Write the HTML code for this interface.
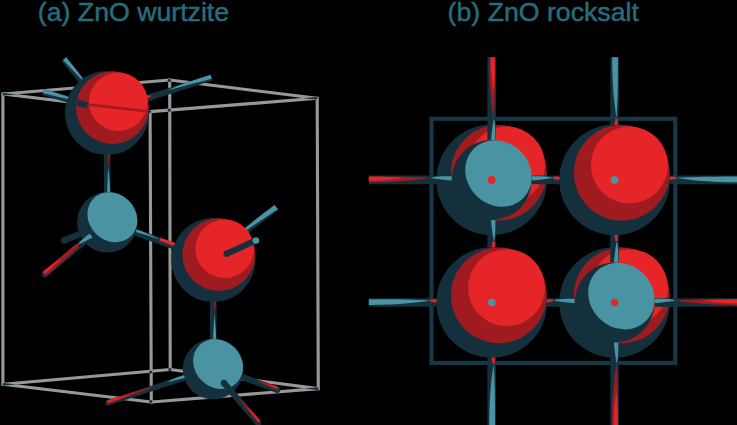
<!DOCTYPE html>
<html><head><meta charset="utf-8"><style>
html,body{margin:0;padding:0;background:#000;}
body{width:737px;height:425px;overflow:hidden;position:relative;}
svg{position:absolute;left:0;top:0;}
</style></head><body>
<svg width="737" height="425" viewBox="0 0 737 425">
<line x1="2.90" y1="94.00" x2="169.70" y2="80.00" stroke="#989898" stroke-width="3.1" stroke-linecap="round"/>
<line x1="169.70" y1="80.00" x2="317.20" y2="98.30" stroke="#989898" stroke-width="3.1" stroke-linecap="round"/>
<line x1="2.90" y1="94.00" x2="150.10" y2="111.60" stroke="#989898" stroke-width="3.1" stroke-linecap="round"/>
<line x1="150.10" y1="111.60" x2="317.20" y2="98.30" stroke="#989898" stroke-width="3.1" stroke-linecap="round"/>
<line x1="2.90" y1="384.20" x2="170.20" y2="369.50" stroke="#989898" stroke-width="3.1" stroke-linecap="round"/>
<line x1="170.20" y1="369.50" x2="318.30" y2="388.60" stroke="#989898" stroke-width="3.1" stroke-linecap="round"/>
<line x1="2.90" y1="384.20" x2="151.30" y2="402.00" stroke="#989898" stroke-width="3.1" stroke-linecap="round"/>
<line x1="151.30" y1="402.00" x2="318.30" y2="388.60" stroke="#989898" stroke-width="3.1" stroke-linecap="round"/>
<line x1="2.90" y1="94.00" x2="2.90" y2="384.20" stroke="#989898" stroke-width="3.1" stroke-linecap="round"/>
<line x1="150.10" y1="111.60" x2="151.30" y2="402.00" stroke="#989898" stroke-width="3.1" stroke-linecap="round"/>
<line x1="169.70" y1="80.00" x2="170.20" y2="369.50" stroke="#989898" stroke-width="3.1" stroke-linecap="round"/>
<line x1="317.20" y1="98.30" x2="318.30" y2="388.60" stroke="#989898" stroke-width="3.1" stroke-linecap="round"/>
<polygon points="110.30,112.99 110.65,222.24 104.05,222.26 103.70,113.01" fill="#15303d"/>
<polygon points="110.15,112.99 110.16,116.40 110.17,119.82 110.18,123.23 110.19,126.65 110.19,130.06 110.18,133.47 110.15,136.89 110.11,140.30 110.05,143.72 109.95,147.13 109.82,150.55 109.65,153.96 109.42,157.38 109.13,160.79 108.77,164.21 108.33,167.62 108.33,167.62 108.25,164.21 108.18,160.79 108.10,157.38 108.02,153.97 107.94,150.55 107.87,147.14 107.79,143.72 107.71,140.31 107.63,136.90 107.54,133.48 107.46,130.07 107.38,126.66 107.29,123.24 107.20,119.83 107.11,116.41 107.00,113.00" fill="#a01b20"/>
<polygon points="110.50,222.24 110.49,218.83 110.48,215.41 110.46,212.00 110.45,208.58 110.42,205.17 110.39,201.76 110.34,198.34 110.28,194.93 110.19,191.51 110.06,188.10 109.90,184.69 109.69,181.27 109.42,177.86 109.08,174.45 108.67,171.03 108.16,167.62 108.16,167.62 108.00,171.04 107.84,174.45 107.69,177.87 107.53,181.28 107.38,184.69 107.23,188.11 107.09,191.52 106.95,194.94 106.81,198.35 106.68,201.77 106.55,205.18 106.42,208.60 106.31,212.01 106.20,215.43 106.10,218.84 106.03,222.25" fill="#4a93a3"/>
<polygon points="108.49,219.05 214.54,256.80 212.26,263.20 106.21,225.45" fill="#15303d"/>
<polygon points="108.44,219.19 111.69,220.34 114.94,221.50 118.18,222.66 121.43,223.82 124.67,224.99 127.91,226.16 131.15,227.35 134.38,228.55 137.61,229.77 140.82,231.02 144.02,232.30 147.21,233.62 150.38,234.99 153.54,236.42 156.67,237.91 159.77,239.47 159.77,239.47 156.48,238.42 153.19,237.38 149.91,236.34 146.62,235.30 143.32,234.27 140.03,233.23 136.74,232.20 133.45,231.17 130.15,230.15 126.86,229.12 123.56,228.11 120.26,227.10 116.96,226.09 113.65,225.10 110.34,224.12 107.01,223.21" fill="#4a93a3"/>
<polygon points="214.49,256.94 211.11,255.73 207.73,254.53 204.35,253.33 200.97,252.13 197.59,250.92 194.21,249.72 190.83,248.52 187.45,247.31 184.07,246.11 180.69,244.91 177.31,243.70 173.93,242.50 170.55,241.30 167.17,240.09 163.78,238.89 160.40,237.69 159.31,240.75 162.68,241.99 166.05,243.23 169.41,244.48 172.78,245.72 176.14,246.96 179.51,248.21 182.88,249.45 186.24,250.69 189.61,251.94 192.98,253.18 196.34,254.42 199.71,255.67 203.07,256.91 206.44,258.15 209.81,259.40 213.17,260.64" fill="#e52528"/>
<polygon points="216.70,260.01 216.40,369.11 209.80,369.09 210.10,259.99" fill="#15303d"/>
<polygon points="216.55,260.01 216.54,263.42 216.53,266.83 216.52,270.24 216.50,273.65 216.48,277.06 216.45,280.46 216.41,283.87 216.35,287.28 216.27,290.69 216.15,294.10 216.00,297.51 215.81,300.92 215.56,304.33 215.25,307.74 214.87,311.15 214.40,314.55 214.40,314.55 214.35,311.14 214.29,307.73 214.24,304.32 214.18,300.91 214.12,297.51 214.06,294.10 214.00,290.69 213.94,287.28 213.88,283.87 213.82,280.46 213.76,277.05 213.69,273.64 213.63,270.23 213.56,266.82 213.49,263.41 213.40,260.00" fill="#a01b20"/>
<polygon points="216.25,369.11 216.26,365.70 216.27,362.29 216.28,358.88 216.28,355.47 216.28,352.06 216.26,348.65 216.24,345.24 216.19,341.83 216.12,338.42 216.01,335.01 215.87,331.60 215.68,328.19 215.43,324.78 215.12,321.37 214.72,317.96 214.24,314.55 214.24,314.55 214.06,317.96 213.88,321.37 213.70,324.78 213.53,328.19 213.36,331.60 213.19,335.01 213.02,338.42 212.86,341.82 212.70,345.23 212.55,348.64 212.40,352.05 212.26,355.46 212.12,358.87 211.99,362.28 211.87,365.69 211.78,369.10" fill="#4a93a3"/>
<polygon points="66.31,57.15 88.41,84.55 83.59,88.45 61.49,61.05" fill="#15303d"/>
<polygon points="66.20,57.25 67.58,58.96 68.96,60.67 70.34,62.39 71.72,64.10 73.09,65.82 74.46,67.54 75.83,69.27 77.18,71.00 78.52,72.75 79.84,74.51 81.15,76.28 82.43,78.08 83.68,79.89 84.89,81.74 86.07,83.61 87.21,85.53 87.21,85.53 85.69,83.92 84.17,82.32 82.66,80.72 81.14,79.11 79.62,77.51 78.10,75.91 76.59,74.31 75.07,72.70 73.55,71.10 72.04,69.50 70.52,67.89 69.00,66.29 67.49,64.69 65.97,63.08 64.45,61.48 62.93,59.88" fill="#4a93a3"/>
<polygon points="44.10,89.03 87.40,102.23 85.60,108.17 42.30,94.97" fill="#15303d"/>
<polygon points="44.06,89.18 46.77,90.00 49.47,90.83 52.18,91.65 54.88,92.48 57.59,93.32 60.29,94.15 62.99,95.00 65.68,95.86 68.38,96.74 71.06,97.63 73.74,98.55 76.41,99.50 79.06,100.49 81.71,101.51 84.34,102.59 86.95,103.72 86.95,103.72 84.19,103.06 81.44,102.40 78.68,101.74 75.92,101.08 73.17,100.43 70.41,99.77 67.65,99.11 64.90,98.45 62.14,97.79 59.38,97.14 56.62,96.48 53.87,95.82 51.11,95.16 48.35,94.50 45.60,93.84 42.84,93.19" fill="#4a93a3"/>
<polygon points="210.46,74.65 145.06,95.55 146.94,101.45 212.34,80.55" fill="#15303d"/>
<polygon points="210.50,74.79 207.79,75.66 205.08,76.53 202.36,77.40 199.65,78.27 196.94,79.15 194.24,80.04 191.53,80.93 188.83,81.84 186.14,82.77 183.45,83.73 180.78,84.71 178.12,85.73 175.47,86.79 172.83,87.91 170.22,89.08 167.62,90.32 167.62,90.32 170.38,89.60 173.14,88.88 175.90,88.16 178.66,87.43 181.42,86.71 184.18,85.99 186.94,85.27 189.70,84.55 192.46,83.83 195.22,83.11 197.98,82.39 200.74,81.67 203.50,80.94 206.26,80.22 209.02,79.50 211.78,78.78" fill="#4a93a3"/>
<polygon points="139.25,96.99 151.25,93.99 152.75,100.01 140.75,103.01" fill="#15303d"/>
<polygon points="139.28,97.14 140.03,96.95 140.78,96.76 141.54,96.58 142.29,96.40 143.04,96.22 143.79,96.05 144.55,95.90 145.32,95.76 146.08,95.65 146.86,95.56 147.64,95.51 148.44,95.51 149.25,95.55 150.07,95.66 150.91,95.84 151.77,96.10 151.77,96.10 151.07,96.47 150.37,96.85 149.67,97.22 148.96,97.60 148.26,97.98 147.56,98.35 146.85,98.73 146.15,99.10 145.45,99.48 144.74,99.85 144.04,100.23 143.34,100.60 142.64,100.98 141.93,101.35 141.23,101.73 140.53,102.11" fill="#e52528"/>
<polygon points="62.79,237.38 83.79,228.98 86.21,235.02 65.21,243.42" fill="#15303d"/>
<circle cx="64.00" cy="240.40" r="3.25" fill="#15303d"/>
<polygon points="274.53,204.81 233.03,236.41 236.97,241.59 278.47,209.99" fill="#15303d"/>
<polygon points="274.62,204.93 272.03,206.91 269.43,208.88 266.84,210.86 264.25,212.84 261.67,214.82 259.08,216.82 256.51,218.82 253.95,220.84 251.41,222.88 248.88,224.94 246.38,227.04 243.90,229.17 241.46,231.35 239.06,233.57 236.71,235.86 234.41,238.22 234.41,238.22 237.13,236.41 239.84,234.60 242.56,232.78 245.28,230.97 247.99,229.16 250.71,227.34 253.43,225.53 256.14,223.72 258.86,221.90 261.58,220.09 264.29,218.28 267.01,216.46 269.73,214.65 272.44,212.84 275.16,211.02 277.88,209.21" fill="#4a93a3"/>
<circle cx="107.00" cy="113.00" r="42.10" fill="#15303d"/>
<circle cx="112.43" cy="107.57" r="36.37" fill="#a01b20"/>
<circle cx="118.29" cy="101.71" r="29.26" fill="#e52528"/>
<clipPath id="c1"><circle cx="107.00" cy="113.00" r="41.80"/></clipPath>
<line x1="80" y1="103.6" x2="149.5" y2="111.6" stroke="#a01b20" stroke-width="2.6" clip-path="url(#c1)"/>
<polygon points="77.85,99.42 88.35,102.42 86.65,108.38 76.15,105.38" fill="#15303d"/>
<circle cx="107.35" cy="222.25" r="30.30" fill="#15303d"/>
<ellipse cx="112.36" cy="217.24" rx="26.49" ry="23.37" transform="rotate(45 112.36 217.24)" fill="#4a93a3"/>
<circle cx="213.40" cy="260.00" r="42.10" fill="#15303d"/>
<circle cx="218.83" cy="254.57" r="36.37" fill="#a01b20"/>
<circle cx="224.69" cy="248.71" r="29.26" fill="#e52528"/>
<circle cx="213.10" cy="369.10" r="30.30" fill="#15303d"/>
<ellipse cx="218.11" cy="364.09" rx="26.49" ry="23.37" transform="rotate(45 218.11 364.09)" fill="#4a93a3"/>
<polygon points="42.75,271.74 76.75,243.44 80.85,248.36 46.85,276.66" fill="#15303d"/>
<circle cx="44.80" cy="274.20" r="3.20" fill="#15303d"/>
<polygon points="42.85,271.86 44.97,270.09 47.10,268.32 49.22,266.55 51.35,264.78 53.47,263.01 55.60,261.24 57.72,259.47 59.85,257.71 61.97,255.94 64.10,254.17 66.22,252.40 68.35,250.63 70.47,248.86 72.60,247.09 74.72,245.32 76.85,243.56 79.21,246.39 77.16,248.25 75.10,250.10 73.05,251.96 71.00,253.81 68.94,255.67 66.89,257.52 64.84,259.38 62.78,261.23 60.73,263.09 58.68,264.94 56.62,266.80 54.57,268.65 52.52,270.50 50.46,272.36 48.41,274.21 46.36,276.07" fill="#a01b20"/>
<polygon points="42.94,271.97 44.01,271.09 45.07,270.20 46.13,269.32 47.20,268.44 48.27,267.56 49.34,266.69 50.43,265.84 51.52,264.99 52.63,264.16 53.76,263.35 54.91,262.58 56.09,261.83 57.30,261.12 58.55,260.46 59.84,259.86 61.19,259.31 61.19,259.31 60.16,260.24 59.14,261.17 58.11,262.10 57.09,263.03 56.07,263.96 55.04,264.90 54.02,265.83 52.99,266.76 51.97,267.69 50.94,268.62 49.92,269.55 48.90,270.48 47.87,271.41 46.85,272.34 45.82,273.27 44.80,274.20" fill="#e52528"/>
<polygon points="89.42,233.48 76.82,243.38 80.78,248.42 93.38,238.52" fill="#15303d"/>
<polygon points="89.52,233.60 88.73,234.22 87.94,234.84 87.15,235.46 86.37,236.08 85.59,236.71 84.81,237.34 84.04,237.98 83.28,238.64 82.54,239.31 81.81,240.00 81.10,240.72 80.41,241.47 79.75,242.25 79.13,243.08 78.55,243.96 78.01,244.89 78.01,244.89 78.92,244.43 79.83,243.97 80.74,243.51 81.65,243.05 82.56,242.59 83.48,242.12 84.39,241.66 85.30,241.20 86.21,240.74 87.12,240.28 88.03,239.82 88.94,239.36 89.85,238.89 90.76,238.43 91.68,237.97 92.59,237.51" fill="#4a93a3"/>
<polygon points="225.22,250.98 254.62,237.68 257.18,243.32 227.78,256.62" fill="#15303d"/>
<circle cx="226.50" cy="253.80" r="3.10" fill="#15303d"/>
<circle cx="255.90" cy="240.50" r="3.30" fill="#4a93a3"/>
<polygon points="260.55,420.67 226.15,380.87 221.45,384.93 255.85,424.73" fill="#15303d"/>
<circle cx="258.20" cy="422.70" r="3.10" fill="#15303d"/>
<circle cx="223.80" cy="382.90" r="3.10" fill="#15303d"/>
<polygon points="260.43,420.77 259.14,419.28 257.85,417.79 256.56,416.29 255.27,414.81 253.97,413.32 252.67,411.84 251.35,410.36 250.03,408.90 248.69,407.45 247.33,406.02 245.95,404.60 244.54,403.21 243.10,401.86 241.61,400.53 240.08,399.25 238.50,398.01 238.50,398.01 239.69,399.58 240.89,401.16 242.09,402.73 243.29,404.30 244.50,405.86 245.70,407.43 246.91,408.99 248.12,410.55 249.34,412.11 250.55,413.66 251.77,415.22 253.00,416.77 254.23,418.31 255.46,419.85 256.71,421.38 257.97,422.90" fill="#a01b20"/>
<polygon points="260.32,420.87 259.57,420.00 258.81,419.13 258.06,418.26 257.30,417.39 256.54,416.53 255.78,415.67 255.01,414.81 254.22,413.97 253.43,413.14 252.61,412.32 251.78,411.52 250.91,410.74 250.02,410.00 249.09,409.28 248.12,408.60 247.10,407.96 247.10,407.96 247.83,408.85 248.57,409.73 249.30,410.62 250.03,411.50 250.77,412.39 251.51,413.28 252.24,414.16 252.98,415.04 253.72,415.93 254.45,416.81 255.19,417.69 255.93,418.58 256.67,419.46 257.41,420.34 258.16,421.22 258.90,422.09" fill="#e52528"/>
<polygon points="278.37,386.89 243.17,373.89 241.03,379.71 276.23,392.71" fill="#15303d"/>
<circle cx="277.30" cy="389.80" r="3.10" fill="#15303d"/>
<polygon points="278.32,387.03 277.00,386.55 275.68,386.06 274.36,385.57 273.04,385.09 271.72,384.61 270.39,384.14 269.06,383.68 267.72,383.23 266.38,382.81 265.03,382.40 263.67,382.03 262.29,381.69 260.90,381.39 259.49,381.15 258.06,380.96 256.61,380.84 256.61,380.84 257.89,381.44 259.16,382.04 260.44,382.64 261.72,383.24 263.00,383.83 264.28,384.43 265.57,385.02 266.85,385.60 268.14,386.18 269.42,386.76 270.71,387.33 272.00,387.90 273.29,388.46 274.59,389.02 275.89,389.56 277.19,390.09" fill="#a01b20"/>
<polygon points="278.27,387.17 277.61,386.93 276.95,386.69 276.29,386.44 275.63,386.20 274.96,385.97 274.30,385.74 273.63,385.52 272.96,385.31 272.28,385.13 271.59,384.96 270.89,384.82 270.18,384.71 269.45,384.64 268.71,384.62 267.95,384.65 267.17,384.74 267.17,384.74 267.83,384.98 268.49,385.22 269.15,385.47 269.81,385.71 270.47,385.96 271.13,386.20 271.79,386.44 272.45,386.69 273.11,386.93 273.77,387.17 274.43,387.42 275.09,387.66 275.75,387.91 276.41,388.15 277.07,388.39 277.73,388.64" fill="#e52528"/>
<polygon points="106.95,400.44 183.85,375.04 185.55,380.16 108.65,405.56" fill="#15303d"/>
<circle cx="107.80" cy="403.00" r="2.70" fill="#15303d"/>
<polygon points="107.00,400.58 109.98,399.59 112.96,398.61 115.94,397.63 118.92,396.65 121.90,395.67 124.89,394.71 127.88,393.75 130.87,392.81 133.87,391.89 136.88,390.99 139.90,390.12 142.93,389.29 145.98,388.50 149.04,387.77 152.12,387.09 155.22,386.48 155.22,386.48 152.29,387.60 149.35,388.72 146.42,389.83 143.48,390.94 140.54,392.05 137.60,393.16 134.66,394.27 131.72,395.37 128.78,396.47 125.84,397.57 122.89,398.66 119.95,399.75 117.00,400.83 114.05,401.91 111.10,402.98 108.14,404.03" fill="#a01b20"/>
<polygon points="107.05,400.72 108.39,400.28 109.74,399.83 111.09,399.39 112.43,398.95 113.78,398.51 115.13,398.08 116.49,397.66 117.84,397.26 119.21,396.87 120.58,396.51 121.96,396.17 123.35,395.86 124.76,395.60 126.18,395.38 127.62,395.22 129.08,395.12 129.08,395.12 127.75,395.62 126.42,396.12 125.10,396.62 123.77,397.12 122.44,397.62 121.11,398.12 119.78,398.61 118.46,399.11 117.13,399.60 115.80,400.10 114.47,400.59 113.13,401.08 111.80,401.56 110.47,402.05 109.14,402.53 107.80,403.00" fill="#e52528"/>
<polygon points="183.87,375.03 167.17,380.43 168.83,385.57 185.53,380.17" fill="#15303d"/>
<polygon points="183.92,375.17 182.87,375.51 181.83,375.85 180.78,376.19 179.74,376.53 178.70,376.88 177.66,377.23 176.63,377.60 175.60,377.98 174.58,378.38 173.56,378.80 172.55,379.26 171.56,379.75 170.58,380.28 169.62,380.87 168.67,381.52 167.75,382.23 167.75,382.23 168.82,381.96 169.88,381.68 170.94,381.41 172.01,381.14 173.07,380.86 174.14,380.59 175.20,380.32 176.27,380.04 177.33,379.77 178.40,379.50 179.46,379.22 180.52,378.95 181.59,378.68 182.65,378.40 183.72,378.13 184.78,377.86" fill="#4a93a3"/>
<polygon points="3.17,95.60 17.20,94.58 3.23,93.00 2.40,94.28" fill="#15303d"/>
<polygon points="316.90,97.00 302.90,98.30 316.90,99.60 317.70,98.30" fill="#15303d"/>
<polygon points="3.17,385.50 17.20,384.48 3.23,382.90 2.40,384.18" fill="#15303d"/>
<polygon points="318.00,387.30 304.00,388.60 318.00,389.90 318.80,388.60" fill="#15303d"/>
<circle cx="150.80" cy="372.00" r="1.60" fill="#15303d"/>
<circle cx="150.80" cy="401.60" r="1.60" fill="#15303d"/>
<circle cx="169.30" cy="110.20" r="1.60" fill="#15303d"/>
<circle cx="169.30" cy="80.40" r="1.60" fill="#15303d"/>
<circle cx="149.50" cy="111.60" r="1.60" fill="#15303d"/>
<circle cx="169.80" cy="369.50" r="1.60" fill="#15303d"/>
<polygon points="496.00,57.30 496.00,118.60 487.40,118.60 487.40,57.30" fill="#15303d"/>
<polygon points="495.00,57.30 495.00,61.13 495.00,64.96 494.99,68.79 494.98,72.63 494.96,76.46 494.93,80.29 494.89,84.12 494.83,87.95 494.76,91.78 494.67,95.61 494.56,99.44 494.42,103.28 494.27,107.11 494.09,110.94 493.88,114.77 493.63,118.60 493.63,118.60 493.06,114.77 492.53,110.94 492.04,107.11 491.60,103.28 491.20,99.44 490.84,95.61 490.52,91.78 490.24,87.95 490.00,84.12 489.79,80.29 489.63,76.46 489.50,72.63 489.40,68.79 489.34,64.96 489.30,61.13 489.29,57.30" fill="#a01b20"/>
<polygon points="494.85,57.30 494.85,59.41 494.85,61.51 494.84,63.62 494.83,65.73 494.81,67.84 494.79,69.94 494.75,72.05 494.70,74.16 494.63,76.26 494.55,78.37 494.46,80.48 494.34,82.59 494.20,84.69 494.04,86.80 493.85,88.91 493.63,91.02 493.63,91.02 493.27,88.91 492.92,86.80 492.61,84.69 492.32,82.59 492.07,80.48 491.83,78.37 491.63,76.26 491.45,74.16 491.29,72.05 491.16,69.94 491.06,67.84 490.97,65.73 490.91,63.62 490.87,61.51 490.85,59.41 490.84,57.30" fill="#e52528"/>
<polygon points="618.90,57.30 618.90,118.60 610.30,118.60 610.30,57.30" fill="#15303d"/>
<polygon points="617.90,57.30 617.90,61.13 617.90,64.96 617.89,68.79 617.88,72.63 617.86,76.46 617.83,80.29 617.79,84.12 617.73,87.95 617.66,91.78 617.57,95.61 617.46,99.44 617.32,103.28 617.17,107.11 616.99,110.94 616.78,114.77 616.53,118.60 616.53,118.60 615.96,114.77 615.43,110.94 614.94,107.11 614.50,103.28 614.10,99.44 613.74,95.61 613.42,91.78 613.14,87.95 612.90,84.12 612.69,80.29 612.53,76.46 612.40,72.63 612.30,68.79 612.24,64.96 612.20,61.13 612.19,57.30" fill="#4a93a3"/>
<polygon points="496.00,425.10 496.00,363.80 487.40,363.80 487.40,425.10" fill="#15303d"/>
<polygon points="495.00,425.10 495.00,421.27 495.00,417.44 494.99,413.61 494.98,409.78 494.96,405.94 494.93,402.11 494.89,398.28 494.83,394.45 494.76,390.62 494.67,386.79 494.56,382.96 494.42,379.12 494.27,375.29 494.09,371.46 493.88,367.63 493.63,363.80 493.63,363.80 493.06,367.63 492.53,371.46 492.04,375.29 491.60,379.12 491.20,382.96 490.84,386.79 490.52,390.62 490.24,394.45 490.00,398.28 489.79,402.11 489.63,405.94 489.50,409.78 489.40,413.61 489.34,417.44 489.30,421.27 489.29,425.10" fill="#4a93a3"/>
<polygon points="618.90,425.10 618.90,363.80 610.30,363.80 610.30,425.10" fill="#15303d"/>
<polygon points="617.90,425.10 617.90,421.27 617.90,417.44 617.89,413.61 617.88,409.78 617.86,405.94 617.83,402.11 617.79,398.28 617.73,394.45 617.66,390.62 617.57,386.79 617.46,382.96 617.32,379.12 617.17,375.29 616.99,371.46 616.78,367.63 616.53,363.80 616.53,363.80 615.96,367.63 615.43,371.46 614.94,375.29 614.50,379.12 614.10,382.96 613.74,386.79 613.42,390.62 613.14,394.45 612.90,398.28 612.69,402.11 612.53,405.94 612.40,409.78 612.30,413.61 612.24,417.44 612.20,421.27 612.19,425.10" fill="#a01b20"/>
<polygon points="617.75,425.10 617.75,422.99 617.75,420.89 617.74,418.78 617.73,416.67 617.71,414.56 617.69,412.46 617.65,410.35 617.60,408.24 617.53,406.14 617.45,404.03 617.36,401.92 617.24,399.81 617.10,397.71 616.94,395.60 616.75,393.49 616.53,391.38 616.53,391.38 616.17,393.49 615.82,395.60 615.51,397.71 615.22,399.81 614.97,401.92 614.73,404.03 614.53,406.14 614.35,408.24 614.19,410.35 614.06,412.46 613.96,414.56 613.87,416.67 613.81,418.78 613.77,420.89 613.75,422.99 613.74,425.10" fill="#e52528"/>
<polygon points="368.80,175.60 430.25,175.60 430.25,184.20 368.80,184.20" fill="#15303d"/>
<polygon points="368.80,176.60 372.64,176.60 376.48,176.60 380.32,176.61 384.16,176.62 388.00,176.64 391.84,176.67 395.68,176.71 399.52,176.77 403.37,176.84 407.21,176.93 411.05,177.04 414.89,177.18 418.73,177.33 422.57,177.51 426.41,177.72 430.25,177.97 430.25,177.97 426.41,178.54 422.57,179.07 418.73,179.56 414.89,180.00 411.05,180.40 407.21,180.76 403.37,181.08 399.52,181.36 395.68,181.60 391.84,181.81 388.00,181.97 384.16,182.10 380.32,182.20 376.48,182.26 372.64,182.30 368.80,182.31" fill="#a01b20"/>
<polygon points="368.80,176.75 370.91,176.75 373.02,176.75 375.14,176.76 377.25,176.77 379.36,176.79 381.47,176.81 383.59,176.85 385.70,176.90 387.81,176.97 389.92,177.05 392.04,177.14 394.15,177.26 396.26,177.40 398.37,177.56 400.49,177.75 402.60,177.97 402.60,177.97 400.49,178.33 398.37,178.68 396.26,178.99 394.15,179.28 392.04,179.53 389.92,179.77 387.81,179.97 385.70,180.15 383.59,180.31 381.47,180.44 379.36,180.54 377.25,180.63 375.14,180.69 373.02,180.73 370.91,180.75 368.80,180.76" fill="#e52528"/>
<polygon points="368.80,298.20 430.25,298.20 430.25,306.80 368.80,306.80" fill="#15303d"/>
<polygon points="368.80,299.20 372.64,299.20 376.48,299.20 380.32,299.21 384.16,299.22 388.00,299.24 391.84,299.27 395.68,299.31 399.52,299.37 403.37,299.44 407.21,299.53 411.05,299.64 414.89,299.78 418.73,299.93 422.57,300.11 426.41,300.32 430.25,300.56 430.25,300.56 426.41,301.14 422.57,301.67 418.73,302.16 414.89,302.60 411.05,303.00 407.21,303.36 403.37,303.68 399.52,303.96 395.68,304.20 391.84,304.41 388.00,304.57 384.16,304.70 380.32,304.80 376.48,304.86 372.64,304.90 368.80,304.91" fill="#4a93a3"/>
<polygon points="737.50,175.60 676.05,175.60 676.05,184.20 737.50,184.20" fill="#15303d"/>
<polygon points="737.50,176.60 733.66,176.60 729.82,176.60 725.98,176.61 722.14,176.62 718.30,176.64 714.46,176.67 710.62,176.71 706.78,176.77 702.93,176.84 699.09,176.93 695.25,177.04 691.41,177.18 687.57,177.33 683.73,177.51 679.89,177.72 676.05,177.97 676.05,177.97 679.89,178.54 683.73,179.07 687.57,179.56 691.41,180.00 695.25,180.40 699.09,180.76 702.93,181.08 706.78,181.36 710.62,181.60 714.46,181.81 718.30,181.97 722.14,182.10 725.98,182.20 729.82,182.26 733.66,182.30 737.50,182.31" fill="#4a93a3"/>
<polygon points="737.50,298.20 676.05,298.20 676.05,306.80 737.50,306.80" fill="#15303d"/>
<polygon points="737.50,299.20 733.66,299.20 729.82,299.20 725.98,299.21 722.14,299.22 718.30,299.24 714.46,299.27 710.62,299.31 706.78,299.37 702.93,299.44 699.09,299.53 695.25,299.64 691.41,299.78 687.57,299.93 683.73,300.11 679.89,300.32 676.05,300.56 676.05,300.56 679.89,301.14 683.73,301.67 687.57,302.16 691.41,302.60 695.25,303.00 699.09,303.36 702.93,303.68 706.78,303.96 710.62,304.20 714.46,304.41 718.30,304.57 722.14,304.70 725.98,304.80 729.82,304.86 733.66,304.90 737.50,304.91" fill="#a01b20"/>
<polygon points="737.50,299.35 735.39,299.35 733.28,299.35 731.16,299.36 729.05,299.37 726.94,299.39 724.83,299.41 722.71,299.45 720.60,299.50 718.49,299.57 716.38,299.65 714.26,299.74 712.15,299.86 710.04,300.00 707.93,300.16 705.81,300.35 703.70,300.56 703.70,300.56 705.81,300.93 707.93,301.28 710.04,301.59 712.15,301.88 714.26,302.13 716.38,302.37 718.49,302.57 720.60,302.75 722.71,302.91 724.83,303.04 726.94,303.14 729.05,303.23 731.16,303.29 733.28,303.33 735.39,303.35 737.50,303.36" fill="#e52528"/>
<rect x="431.5" y="118.8" width="243.79999999999995" height="244.09999999999997" fill="none" stroke="#183847" stroke-width="4.1"/>
<circle cx="491.70" cy="179.90" r="55.30" fill="#15303d"/>
<circle cx="498.85" cy="172.75" r="47.85" fill="#a01b20"/>
<circle cx="506.55" cy="165.05" r="38.50" fill="#e52528"/>
<circle cx="491.70" cy="179.90" r="40.00" fill="#15303d"/>
<ellipse cx="498.50" cy="173.50" rx="35.00" ry="31.50" transform="rotate(45 498.50 173.50)" fill="#4a93a3"/>
<circle cx="614.60" cy="179.90" r="55.30" fill="#15303d"/>
<circle cx="621.75" cy="172.75" r="47.85" fill="#a01b20"/>
<circle cx="629.45" cy="165.05" r="38.50" fill="#e52528"/>
<circle cx="491.70" cy="302.50" r="55.30" fill="#15303d"/>
<circle cx="498.85" cy="295.35" r="47.85" fill="#a01b20"/>
<circle cx="506.55" cy="287.65" r="38.50" fill="#e52528"/>
<circle cx="614.60" cy="302.50" r="55.30" fill="#15303d"/>
<circle cx="621.75" cy="295.35" r="47.85" fill="#a01b20"/>
<circle cx="629.45" cy="287.65" r="38.50" fill="#e52528"/>
<circle cx="614.60" cy="302.50" r="40.00" fill="#15303d"/>
<ellipse cx="621.40" cy="296.10" rx="35.00" ry="31.50" transform="rotate(45 621.40 296.10)" fill="#4a93a3"/>
<polygon points="531.70,175.60 553.15,175.60 553.15,184.20 531.70,184.20" fill="#15303d"/>
<polygon points="531.70,176.20 533.04,176.20 534.38,176.20 535.72,176.20 537.06,176.21 538.40,176.22 539.74,176.23 541.08,176.26 542.42,176.31 543.77,176.38 545.11,176.47 546.45,176.59 547.79,176.76 549.13,176.97 550.47,177.23 551.81,177.56 553.15,177.97 553.15,177.97 551.81,178.16 550.47,178.35 549.13,178.54 547.79,178.73 546.45,178.91 545.11,179.10 543.77,179.27 542.42,179.45 541.08,179.62 539.74,179.78 538.40,179.94 537.06,180.09 535.72,180.24 534.38,180.37 533.04,180.49 531.70,180.59" fill="#4a93a3"/>
<polygon points="451.70,175.60 430.25,175.60 430.25,184.20 451.70,184.20" fill="#15303d"/>
<polygon points="451.70,176.20 450.36,176.20 449.02,176.20 447.68,176.20 446.34,176.21 445.00,176.22 443.66,176.23 442.32,176.26 440.98,176.31 439.63,176.38 438.29,176.47 436.95,176.59 435.61,176.76 434.27,176.97 432.93,177.23 431.59,177.56 430.25,177.97 430.25,177.97 431.59,178.16 432.93,178.35 434.27,178.54 435.61,178.73 436.95,178.91 438.29,179.10 439.63,179.27 440.98,179.45 442.32,179.62 443.66,179.78 445.00,179.94 446.34,180.09 447.68,180.24 449.02,180.37 450.36,180.49 451.70,180.59" fill="#4a93a3"/>
<polygon points="496.00,219.90 496.00,241.20 487.40,241.20 487.40,219.90" fill="#15303d"/>
<polygon points="495.40,219.90 495.40,221.23 495.40,222.56 495.40,223.89 495.39,225.22 495.38,226.56 495.37,227.89 495.34,229.22 495.29,230.55 495.22,231.88 495.13,233.21 495.01,234.54 494.84,235.88 494.63,237.21 494.37,238.54 494.04,239.87 493.63,241.20 493.63,241.20 493.44,239.87 493.25,238.54 493.06,237.21 492.87,235.88 492.69,234.54 492.50,233.21 492.33,231.88 492.15,230.55 491.98,229.22 491.82,227.89 491.66,226.56 491.51,225.22 491.36,223.89 491.23,222.56 491.11,221.23 491.01,219.90" fill="#4a93a3"/>
<polygon points="496.00,139.90 496.00,118.60 487.40,118.60 487.40,139.90" fill="#15303d"/>
<polygon points="495.40,139.90 495.40,138.57 495.40,137.24 495.40,135.91 495.39,134.58 495.38,133.24 495.37,131.91 495.34,130.58 495.29,129.25 495.22,127.92 495.13,126.59 495.01,125.26 494.84,123.93 494.63,122.59 494.37,121.26 494.04,119.93 493.63,118.60 493.63,118.60 493.44,119.93 493.25,121.26 493.06,122.59 492.87,123.93 492.69,125.26 492.50,126.59 492.33,127.92 492.15,129.25 491.98,130.58 491.82,131.91 491.66,133.24 491.51,134.58 491.36,135.91 491.23,137.24 491.11,138.57 491.01,139.90" fill="#4a93a3"/>
<polygon points="669.60,175.60 676.05,175.60 676.05,184.20 669.60,184.20" fill="#15303d"/>
<polygon points="669.60,176.80 670.00,176.80 670.41,176.80 670.81,176.80 671.21,176.80 671.62,176.80 672.02,176.80 672.42,176.80 672.83,176.80 673.23,176.80 673.63,176.80 674.03,176.80 674.44,176.80 674.84,176.80 675.24,176.80 675.65,176.80 676.05,176.80 676.05,179.04 675.65,179.09 675.24,179.15 674.84,179.20 674.44,179.25 674.03,179.31 673.63,179.36 673.23,179.42 672.83,179.47 672.42,179.52 672.02,179.58 671.62,179.63 671.21,179.69 670.81,179.74 670.41,179.79 670.00,179.85 669.60,179.90" fill="#e52528"/>
<polygon points="559.60,175.60 553.15,175.60 553.15,184.20 559.60,184.20" fill="#15303d"/>
<polygon points="559.60,176.80 559.20,176.80 558.79,176.80 558.39,176.80 557.99,176.80 557.58,176.80 557.18,176.80 556.78,176.80 556.38,176.80 555.97,176.80 555.57,176.80 555.17,176.80 554.76,176.80 554.36,176.80 553.96,176.80 553.55,176.80 553.15,176.80 553.15,179.04 553.55,179.09 553.96,179.15 554.36,179.20 554.76,179.25 555.17,179.31 555.57,179.36 555.97,179.42 556.38,179.47 556.78,179.52 557.18,179.58 557.58,179.63 557.99,179.69 558.39,179.74 558.79,179.79 559.20,179.85 559.60,179.90" fill="#e52528"/>
<polygon points="618.90,234.90 618.90,241.20 610.30,241.20 610.30,234.90" fill="#15303d"/>
<polygon points="617.70,234.90 617.70,235.29 617.70,235.69 617.70,236.08 617.70,236.47 617.70,236.87 617.70,237.26 617.70,237.66 617.70,238.05 617.70,238.44 617.70,238.84 617.70,239.23 617.70,239.62 617.70,240.02 617.70,240.41 617.70,240.81 617.70,241.20 615.46,241.20 615.41,240.81 615.35,240.41 615.30,240.02 615.25,239.62 615.19,239.23 615.14,238.84 615.08,238.44 615.03,238.05 614.98,237.66 614.92,237.26 614.87,236.87 614.82,236.47 614.76,236.08 614.71,235.69 614.65,235.29 614.60,234.90" fill="#e52528"/>
<polygon points="618.90,124.90 618.90,118.60 610.30,118.60 610.30,124.90" fill="#15303d"/>
<polygon points="617.70,124.90 617.70,124.51 617.70,124.11 617.70,123.72 617.70,123.33 617.70,122.93 617.70,122.54 617.70,122.14 617.70,121.75 617.70,121.36 617.70,120.96 617.70,120.57 617.70,120.18 617.70,119.78 617.70,119.39 617.70,118.99 617.70,118.60 615.46,118.60 615.41,118.99 615.35,119.39 615.30,119.78 615.25,120.18 615.19,120.57 615.14,120.96 615.08,121.36 615.03,121.75 614.98,122.14 614.92,122.54 614.87,122.93 614.82,123.33 614.76,123.72 614.71,124.11 614.65,124.51 614.60,124.90" fill="#e52528"/>
<polygon points="546.70,298.20 553.15,298.20 553.15,306.80 546.70,306.80" fill="#15303d"/>
<polygon points="546.70,299.40 547.10,299.40 547.51,299.40 547.91,299.40 548.31,299.40 548.72,299.40 549.12,299.40 549.52,299.40 549.92,299.40 550.33,299.40 550.73,299.40 551.13,299.40 551.54,299.40 551.94,299.40 552.34,299.40 552.75,299.40 553.15,299.40 553.15,301.64 552.75,301.69 552.34,301.75 551.94,301.80 551.54,301.86 551.13,301.91 550.73,301.96 550.33,302.02 549.92,302.07 549.52,302.12 549.12,302.18 548.72,302.23 548.31,302.29 547.91,302.34 547.51,302.39 547.10,302.45 546.70,302.50" fill="#e52528"/>
<polygon points="436.70,298.20 430.25,298.20 430.25,306.80 436.70,306.80" fill="#15303d"/>
<polygon points="436.70,299.40 436.30,299.40 435.89,299.40 435.49,299.40 435.09,299.40 434.68,299.40 434.28,299.40 433.88,299.40 433.48,299.40 433.07,299.40 432.67,299.40 432.27,299.40 431.86,299.40 431.46,299.40 431.06,299.40 430.65,299.40 430.25,299.40 430.25,301.64 430.65,301.69 431.06,301.75 431.46,301.80 431.86,301.86 432.27,301.91 432.67,301.96 433.07,302.02 433.48,302.07 433.88,302.12 434.28,302.18 434.68,302.23 435.09,302.29 435.49,302.34 435.89,302.39 436.30,302.45 436.70,302.50" fill="#e52528"/>
<polygon points="496.00,357.50 496.00,363.80 487.40,363.80 487.40,357.50" fill="#15303d"/>
<polygon points="494.80,357.50 494.80,357.89 494.80,358.29 494.80,358.68 494.80,359.07 494.80,359.47 494.80,359.86 494.80,360.26 494.80,360.65 494.80,361.04 494.80,361.44 494.80,361.83 494.80,362.23 494.80,362.62 494.80,363.01 494.80,363.41 494.80,363.80 492.56,363.80 492.51,363.41 492.45,363.01 492.40,362.62 492.34,362.23 492.29,361.83 492.24,361.44 492.18,361.04 492.13,360.65 492.08,360.26 492.02,359.86 491.97,359.47 491.91,359.07 491.86,358.68 491.81,358.29 491.75,357.89 491.70,357.50" fill="#e52528"/>
<polygon points="496.00,247.50 496.00,241.20 487.40,241.20 487.40,247.50" fill="#15303d"/>
<polygon points="494.80,247.50 494.80,247.11 494.80,246.71 494.80,246.32 494.80,245.93 494.80,245.53 494.80,245.14 494.80,244.74 494.80,244.35 494.80,243.96 494.80,243.56 494.80,243.17 494.80,242.77 494.80,242.38 494.80,241.99 494.80,241.59 494.80,241.20 492.56,241.20 492.51,241.59 492.45,241.99 492.40,242.38 492.34,242.77 492.29,243.17 492.24,243.56 492.18,243.96 492.13,244.35 492.08,244.74 492.02,245.14 491.97,245.53 491.91,245.93 491.86,246.32 491.81,246.71 491.75,247.11 491.70,247.50" fill="#e52528"/>
<polygon points="654.60,298.20 676.05,298.20 676.05,306.80 654.60,306.80" fill="#15303d"/>
<polygon points="654.60,298.80 655.94,298.80 657.28,298.80 658.62,298.80 659.96,298.81 661.30,298.82 662.64,298.83 663.98,298.86 665.33,298.91 666.67,298.98 668.01,299.07 669.35,299.19 670.69,299.36 672.03,299.57 673.37,299.83 674.71,300.16 676.05,300.56 676.05,300.56 674.71,300.76 673.37,300.95 672.03,301.14 670.69,301.33 669.35,301.51 668.01,301.70 666.67,301.87 665.33,302.05 663.98,302.22 662.64,302.38 661.30,302.54 659.96,302.69 658.62,302.84 657.28,302.97 655.94,303.09 654.60,303.19" fill="#4a93a3"/>
<polygon points="574.60,298.20 553.15,298.20 553.15,306.80 574.60,306.80" fill="#15303d"/>
<polygon points="574.60,298.80 573.26,298.80 571.92,298.80 570.58,298.80 569.24,298.81 567.90,298.82 566.56,298.83 565.22,298.86 563.88,298.91 562.53,298.98 561.19,299.07 559.85,299.19 558.51,299.36 557.17,299.57 555.83,299.83 554.49,300.16 553.15,300.56 553.15,300.56 554.49,300.76 555.83,300.95 557.17,301.14 558.51,301.33 559.85,301.51 561.19,301.70 562.53,301.87 563.88,302.05 565.22,302.22 566.56,302.38 567.90,302.54 569.24,302.69 570.58,302.84 571.92,302.97 573.26,303.09 574.60,303.19" fill="#4a93a3"/>
<polygon points="618.90,342.50 618.90,363.80 610.30,363.80 610.30,342.50" fill="#15303d"/>
<polygon points="618.30,342.50 618.30,343.83 618.30,345.16 618.30,346.49 618.29,347.82 618.28,349.16 618.27,350.49 618.24,351.82 618.19,353.15 618.12,354.48 618.03,355.81 617.91,357.14 617.74,358.48 617.53,359.81 617.27,361.14 616.94,362.47 616.53,363.80 616.53,363.80 616.34,362.47 616.15,361.14 615.96,359.81 615.77,358.48 615.59,357.14 615.40,355.81 615.23,354.48 615.05,353.15 614.88,351.82 614.72,350.49 614.56,349.16 614.41,347.82 614.26,346.49 614.13,345.16 614.01,343.83 613.91,342.50" fill="#4a93a3"/>
<polygon points="618.90,262.50 618.90,241.20 610.30,241.20 610.30,262.50" fill="#15303d"/>
<polygon points="618.30,262.50 618.30,261.17 618.30,259.84 618.30,258.51 618.29,257.18 618.28,255.84 618.27,254.51 618.24,253.18 618.19,251.85 618.12,250.52 618.03,249.19 617.91,247.86 617.74,246.52 617.53,245.19 617.27,243.86 616.94,242.53 616.53,241.20 616.53,241.20 616.34,242.53 616.15,243.86 615.96,245.19 615.77,246.52 615.59,247.86 615.40,249.19 615.23,250.52 615.05,251.85 614.88,253.18 614.72,254.51 614.56,255.84 614.41,257.18 614.26,258.51 614.13,259.84 614.01,261.17 613.91,262.50" fill="#4a93a3"/>
<circle cx="491.70" cy="179.90" r="3.80" fill="#e52528"/>
<circle cx="614.60" cy="179.90" r="3.80" fill="#4a93a3"/>
<circle cx="491.70" cy="302.50" r="3.80" fill="#4a93a3"/>
<circle cx="614.60" cy="302.50" r="3.80" fill="#e52528"/>
<text x="37.8" y="20.8" font-family="Liberation Sans, sans-serif" font-size="26.7" fill="#276d7c" stroke="#276d7c" stroke-width="0.5">(a) ZnO wurtzite</text>
<text x="447.6" y="20.8" font-family="Liberation Sans, sans-serif" font-size="26.7" fill="#276d7c" stroke="#276d7c" stroke-width="0.5">(b) ZnO rocksalt</text>
</svg>
</body></html>
